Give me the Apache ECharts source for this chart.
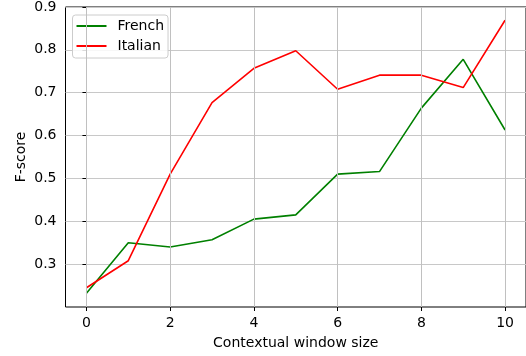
<!DOCTYPE html>
<html><head><meta charset="utf-8">
<script src="https://cdn.jsdelivr.net/npm/echarts@6/dist/echarts.min.js"></script>
<style>html,body{margin:0;padding:0;background:#fff}#c{width:526px;height:356px}</style>
</head><body><div id="c"></div>
<script>
const windowSizes = [0,1,2,3,4,5,6,7,8,9,10];
const french  = [0.232,0.350,0.340,0.357,0.405,0.415,0.510,0.516,0.664,0.778,0.613];
const italian = [0.245,0.308,0.510,0.677,0.757,0.798,0.708,0.741,0.741,0.712,0.869];
const xTicks = [0,2,4,6,8,10];
const yTicks = [0.3,0.4,0.5,0.6,0.7,0.8,0.9];

const font = 'DejaVu Sans';
const chart = echarts.init(document.getElementById('c'), null, {renderer:'canvas'});
chart.setOption({
  animation:false,
  textStyle:{fontFamily:font},
  grid:{left:65.5, top:6.7, right:-3, bottom:49, show:true, borderColor:'#000', borderWidth:1, containLabel:false},
  legend:{
    orient:'vertical', left:72.5, top:15, itemWidth:30, itemHeight:2, itemGap:6,
    padding:[4,4,5,4], backgroundColor:'rgba(255,255,255,0.85)', borderColor:'#cccccc', borderWidth:1, borderRadius:3,
    textStyle:{fontFamily:font, fontSize:14, color:'#000', padding:[0,0,0,6]},
    data:[{name:'French', icon:'rect'},{name:'Italian', icon:'rect'}]
  },
  xAxis:{
    type:'value', min:-0.5, max:10.5,
    name:'Contextual window size', nameLocation:'middle', nameGap:29, nameMoveOverlap:false,
    nameTextStyle:{fontFamily:font, fontSize:14, color:'#000'},
    axisLine:{show:false},
    axisTick:{show:true, inside:false, length:4, lineStyle:{color:'#000'}, customValues:xTicks},
    axisLabel:{fontFamily:font, fontSize:14, color:'#000', margin:9, customValues:xTicks},
    splitLine:{show:false}
  },
  yAxis:{
    type:'value', min:0.2, max:0.9, interval:0.1,
    name:'F-score', nameLocation:'middle', nameGap:37, nameMoveOverlap:false,
    nameTextStyle:{fontFamily:font, fontSize:14, color:'#000'},
    axisLine:{show:false},
    axisTick:{show:true, inside:false, length:4, lineStyle:{color:'#000'}, customValues:yTicks},
    axisLabel:{fontFamily:font, fontSize:14, color:'#000', margin:9, customValues:yTicks, formatter:v=>v.toFixed(1)},
    splitLine:{show:true, lineStyle:{color:'#c8c8c8', width:1}}
  },
  series:[
    {name:'French', type:'line', data:windowSizes.map((x,i)=>[x,french[i]]), symbol:'none',
     lineStyle:{color:'#008000', width:1.6}, itemStyle:{color:'#008000'},
     markLine:{silent:true, symbol:'none', label:{show:false}, animation:false,
       lineStyle:{color:'#c0c0c0', width:1, type:'solid'},
       data:xTicks.map(v=>({xAxis:v}))}},
    {name:'Italian', type:'line', data:windowSizes.map((x,i)=>[x,italian[i]]), symbol:'none',
     lineStyle:{color:'#ff0000', width:1.6}, itemStyle:{color:'#ff0000'}}
  ]
});
</script></body></html>
